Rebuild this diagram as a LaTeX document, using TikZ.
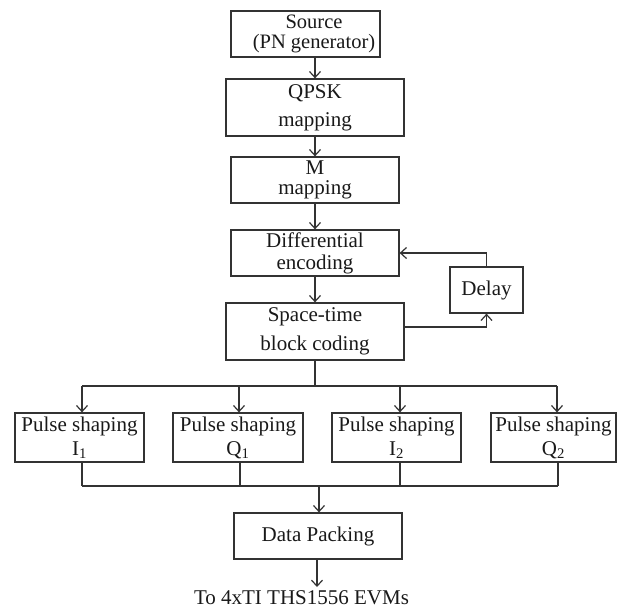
\documentclass[tikz,border=0pt]{standalone}
\usepackage{fontspec}
\setmainfont{Liberation Serif}
\usetikzlibrary{arrows.meta}
\begin{document}
\begin{tikzpicture}[x=1pt,y=-1pt,
  line width=1.25pt, draw=black!80,
  box/.style={draw=black!80, line width=1.25pt, inner sep=0pt, align=center,
    text=black!90, font=\fontsize{21}{24}\selectfont},
  ls/.style={font=\fontsize{21}{#1}\selectfont},
  arr/.style={-{Straight Barb[length=6pt,width=11pt,line width=1.2pt]}},
  lbl/.style={inner sep=0pt, align=center, text=black!90, font=\fontsize{21}{24}\selectfont}]
\useasboundingbox (0,0) rectangle (619,611);

\node[box, minimum width=149pt, minimum height=46pt] (src) at (305.5,34) {};
\node[lbl, ls=20.5, font=\fontsize{20.5}{20.5}\selectfont] (srct) at (314,34) {Source\\(PN generator)};
\node[box, ls=28, minimum width=178pt, minimum height=57pt] (qpsk) at (315,107.5) {QPSK\\mapping};
\node[box, ls=20.5, minimum width=168pt, minimum height=46pt] (mmap) at (315,180) {M\\mapping};
\node[box, ls=22, minimum width=168pt, minimum height=46pt] (diff) at (315,253) {Differential\\encoding};
\node[box, ls=29, minimum width=178pt, minimum height=57pt] (stbc) at (315,331.5) {Space-time\\block coding};
\node[box, minimum width=73pt, minimum height=46pt] (delay) at (486.5,290) {Delay};

\node[box, minimum width=129pt, minimum height=49pt] (i1) at (79.5,437.5) {Pulse shaping\\I\textsubscript{1}};
\node[box, minimum width=130pt, minimum height=49pt] (q1) at (238,437.5) {Pulse shaping\\Q\textsubscript{1}};
\node[box, minimum width=129pt, minimum height=49pt] (i2) at (396.5,437.5) {Pulse shaping\\I\textsubscript{2}};
\node[box, minimum width=125pt, minimum height=49pt] (q2) at (553.5,437.5) {Pulse shaping\\Q\textsubscript{2}};

\node[box, minimum width=168pt, minimum height=46pt] (dp) at (318,536) {Data Packing};
\node[lbl, anchor=base] (evm) at (301.5,604) {To 4xTI THS1556 EVMs};

% upper bus
\coordinate (bs) at (315,386);
\coordinate (b1) at (82,386);
\coordinate (b2) at (239,386);
\coordinate (b3) at (400,386);
\coordinate (b4) at (557,386);
% lower bus
\coordinate (c1) at (82,486);
\coordinate (c2) at (240,486);
\coordinate (c3) at (400,486);
\coordinate (c4) at (558,486);
\coordinate (cm) at (319,486);
\coordinate (outend) at (317,587);

\draw[arr] (src.south -| qpsk.north) -- (qpsk.north);
\draw[arr] (qpsk.south) -- (mmap.north);
\draw[arr] (mmap.south) -- (diff.north);
\draw[arr] (diff.south) -- (stbc.north);
\draw[arr] ([yshift=4.5pt]stbc.east) -| (delay.south);
\draw[arr] (delay.north) |- (diff.east);

\draw (stbc.south) -- (bs);
\draw (b1) -- (b4);
\draw[arr] (b1) -- (b1 |- i1.north);
\draw[arr] (b2) -- (b2 |- q1.north);
\draw[arr] (b3) -- (b3 |- i2.north);
\draw[arr] (b4) -- (b4 |- q2.north);

\draw (c1 |- i1.south) -- (c1);
\draw (c2 |- q1.south) -- (c2);
\draw (c3 |- i2.south) -- (c3);
\draw (c4 |- q2.south) -- (c4);
\draw (c1) -- (c4);
\draw[arr] (cm) -- (cm |- dp.north);
\draw[arr] (dp.south -| outend) -- (outend);
\end{tikzpicture}
\end{document}
